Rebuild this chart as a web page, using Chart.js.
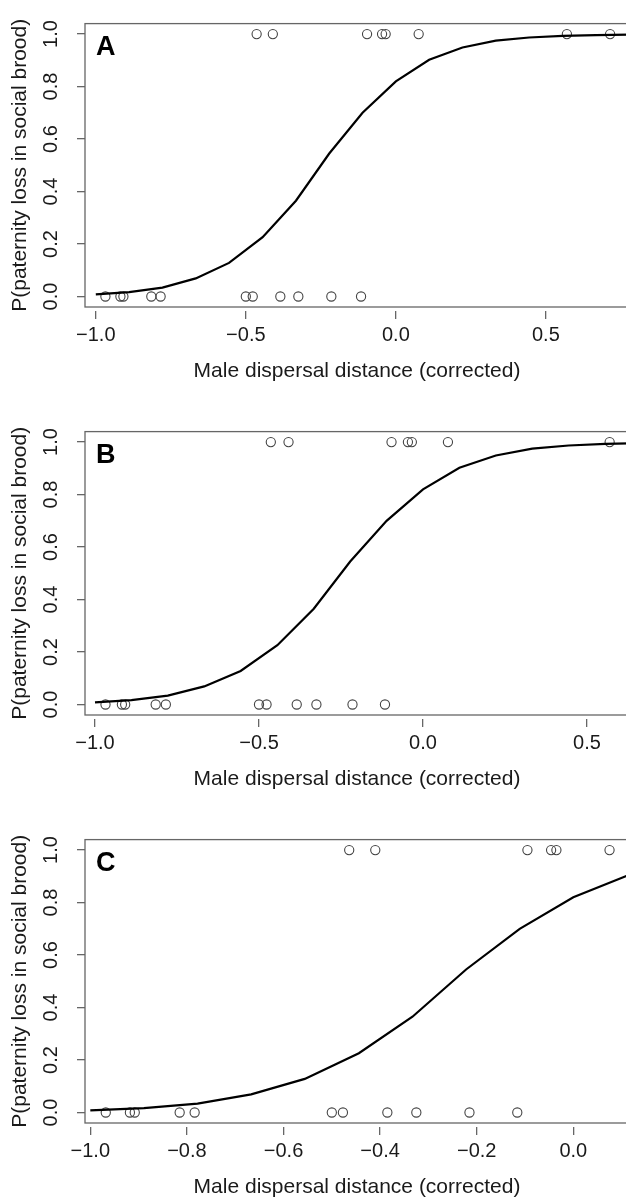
<!DOCTYPE html>
<html>
<head>
<meta charset="utf-8">
<script src="https://cdn.jsdelivr.net/npm/chart.js@4/dist/chart.umd.min.js"></script>
<style>
  html, body { margin: 0; padding: 0; background: #fff; width: 626px; height: 1202px; overflow: hidden; }
  canvas { position: absolute; left: 0; }
</style>
</head>
<body>
<canvas id="panelA" width="640" height="385" style="top:0px"></canvas>
<canvas id="panelB" width="640" height="385" style="top:408px"></canvas>
<canvas id="panelC" width="640" height="385" style="top:816px"></canvas>
<script>
// fitted curve
const curveX = [-1.0, -0.889, -0.778, -0.667, -0.556, -0.444, -0.333, -0.222, -0.111, 0.0, 0.111, 0.222, 0.333, 0.444, 0.556, 0.667, 0.778];
const curveP = [0.008, 0.017, 0.034, 0.069, 0.128, 0.226, 0.365, 0.545, 0.700, 0.820, 0.902, 0.949, 0.975, 0.987, 0.993, 0.996, 0.998];

// observed broods without paternity loss (y = 0)
const zeroX = [-0.968, -0.918, -0.908, -0.815, -0.784, -0.500, -0.477, -0.385, -0.325, -0.215, -0.116];

// observed broods with paternity loss (y = 1)
const oneXA = [-0.464, -0.410, -0.096, -0.046, -0.034, 0.076, 0.570, 0.714];
const oneXB = [-0.464, -0.410, -0.096, -0.046, -0.034, 0.076, 0.569];
const oneXC = [-0.464, -0.410, -0.095, -0.046, -0.035, 0.075];

const xLimA = [-1.036, 0.777];
const xLimB = [-1.0305, 0.628];
const xLimC = [-1.011, 0.1153];

const xTicksAB = [-1.0, -0.5, 0.0, 0.5];
const xTicksC = [-1.0, -0.8, -0.6, -0.4, -0.2, 0.0];
const yTicks = [0.0, 0.2, 0.4, 0.6, 0.8, 1.0];

const xTitle = "Male dispersal distance (corrected)";
const yTitle = "P(paternity loss in social brood)";

const FONT = '"Liberation Sans", Arial, Helvetica, sans-serif';
const INK = "#1a1a1a";
const FRAME = "#666";

const fmt = (v) => v.toFixed(1).replace("-", "\u2212");

const framePlugin = {
  id: "frame",
  afterDraw(chart, args, opts) {
    const { ctx, chartArea: a } = chart;
    ctx.save();
    ctx.strokeStyle = FRAME;
    ctx.lineWidth = 1.3;
    ctx.strokeRect(a.left, a.top, a.right - a.left, a.bottom - a.top);
    ctx.fillStyle = "#000";
    ctx.font = "bold 27px " + FONT;
    ctx.textBaseline = "alphabetic";
    ctx.textAlign = "left";
    ctx.fillText(opts.letter, a.left + 11, a.top + 31);
    ctx.restore();
  },
};

const makePanel = (id, letter, oneX, xLim, xTicks) => {
  const ctx = document.getElementById(id).getContext("2d");
  new Chart(ctx, {
    type: "scatter",
    data: {
      datasets: [
        {
          label: "fit",
          data: curveX.map((x, i) => ({ x: x, y: curveP[i] })),
          showLine: true,
          borderColor: "#000",
          borderWidth: 2.2,
          pointRadius: 0,
          tension: 0,
        },
        {
          label: "no loss",
          data: zeroX.map((x) => ({ x: x, y: 0 })),
          pointRadius: 4.6,
          pointBorderWidth: 1.1,
          pointBorderColor: "#444",
          pointBackgroundColor: "rgba(0,0,0,0)",
        },
        {
          label: "loss",
          data: oneX.map((x) => ({ x: x, y: 1 })),
          pointRadius: 4.6,
          pointBorderWidth: 1.1,
          pointBorderColor: "#444",
          pointBackgroundColor: "rgba(0,0,0,0)",
        },
      ],
    },
    options: {
      responsive: false,
      animation: false,
      events: [],
      layout: { padding: { top: 8, right: 11, bottom: 0, left: 0 } },
      plugins: {
        legend: { display: false },
        tooltip: { enabled: false },
        frame: { letter: letter },
      },
      scales: {
        x: {
          type: "linear",
          min: xLim[0],
          max: xLim[1],
          afterBuildTicks: (s) => { s.ticks = xTicks.map((v) => ({ value: v })); },
          afterFit: (s) => { s.height = 78; },
          border: { display: false },
          grid: {
            drawOnChartArea: false,
            color: FRAME,
            lineWidth: 1.3,
            tickLength: 12,
            borderDash: [8, 4],
            borderDashOffset: 8,
            tickBorderDash: [8, 4],
            tickBorderDashOffset: 8,
          },
          ticks: {
            color: INK,
            font: { family: FONT, size: 20 },
            padding: 4,
            maxRotation: 0,
            autoSkip: false,
            callback: (v) => fmt(v),
          },
          title: {
            display: true,
            text: xTitle,
            color: INK,
            font: { family: FONT, size: 21 },
            padding: { top: 0, bottom: 1 },
          },
        },
        y: {
          type: "linear",
          min: -0.04,
          max: 1.04,
          afterBuildTicks: (s) => { s.ticks = yTicks.map((v) => ({ value: v })); },
          afterFit: (s) => { s.width = 85; },
          border: { display: false },
          grid: {
            drawOnChartArea: false,
            color: FRAME,
            lineWidth: 1.3,
            tickLength: 8,
          },
          ticks: {
            color: INK,
            font: { family: FONT, size: 20 },
            padding: 11.6,
            minRotation: 90,
            maxRotation: 90,
            crossAlign: "center",
            autoSkip: false,
            callback: (v) => fmt(v),
          },
          title: {
            display: true,
            text: yTitle,
            color: INK,
            font: { family: FONT, size: 21 },
            padding: { top: 8, bottom: 0 },
          },
        },
      },
    },
    plugins: [framePlugin],
  });
};

makePanel("panelA", "A", oneXA, xLimA, xTicksAB);
makePanel("panelB", "B", oneXB, xLimB, xTicksAB);
makePanel("panelC", "C", oneXC, xLimC, xTicksC);
</script>
</body>
</html>
